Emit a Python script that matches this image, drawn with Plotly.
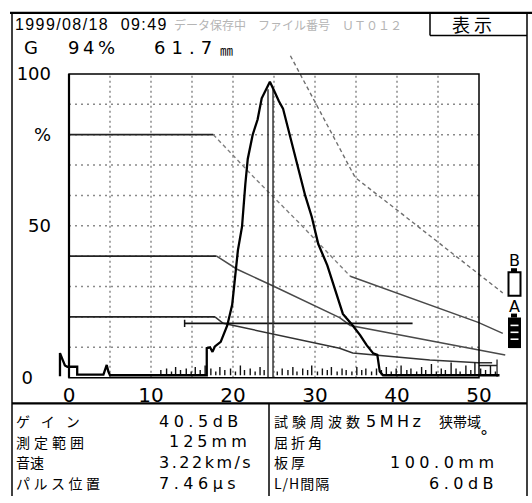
import plotly.graph_objects as go

W, H = 532, 503

# A-scan screen geometry (pixels per unit)
X0_PX, X_SCALE = 69.0, 8.2      # x = 0 at 69 px, 8.2 px per division unit
Y0_PX, Y_SCALE = 383.0, 3.08    # 0 % at 383 px, 3.08 px per %
PLOT_L, PLOT_R, PLOT_T, PLOT_B = 55, 510, 55, 386

# ---------------- data ----------------
x_ticks = [0, 10, 20, 30, 40, 50]
y_ticks = [0, 50, 80, 100]
y_ticktext = ["0\u2002\u2002", "50", "%", "100"]

# A-scan trace: initial pulse, baseline, main echo
echo_x = [-1.1, -1.1, -0.5, -0.2, 1.0, 1.0, 4.2, 4.4, 4.6, 4.8, 5.0,
          16.8, 16.8, 17.2, 17.5, 17.8, 18.5, 19.3, 19.9, 20.6, 21.1, 21.5,
          21.8, 22.4, 23.0, 23.5, 24.0, 24.5, 25.1, 25.6, 26.1, 27.0, 27.8,
          28.8, 29.6, 30.4, 31.5, 32.7, 33.4, 34.5, 35.5, 36.3, 37.1, 37.6,
          37.9, 38.3, 52.5]
echo_y = [0.5, 8.1, 4.0, 3.6, 3.6, 1.0, 1.0, 3.0, 4.2, 2.0, 0.8,
          0.8, 9.7, 10.0, 8.5, 10.3, 11.8, 17.2, 24.0, 42.0, 49.7, 63.6,
          72.0, 80.0, 85.0, 92.0, 95.0, 97.4, 94.0, 91.0, 88.6, 79.0, 71.0,
          60.0, 53.0, 44.0, 37.0, 27.0, 21.0, 17.5, 14.0, 10.7, 8.0, 7.5,
          2.0, 0.8, 0.8]

# baseline noise spikes
noise_x = [11.2, 11.9, 12.5, 13.0, 13.6, 14.3, 14.9, 15.4, 16.0, 16.6, 17.3,
           17.9, 18.4, 19.0, 19.7, 20.3, 20.9, 21.4, 22.1, 22.7, 23.3, 23.8,
           25.4, 26.0, 26.7, 27.3, 27.8, 28.5, 29.1, 29.6, 30.3, 30.9, 31.5,
           32.0, 32.7, 33.3, 33.8, 34.5, 35.1, 35.7, 36.2, 36.9, 37.5, 38.1,
           38.7, 39.3, 39.9, 40.5, 41.2, 41.7, 42.4, 43.0, 43.5, 44.2, 44.8,
           45.4, 45.9, 46.6, 47.2, 47.7, 48.4, 49.0, 49.5, 50.2, 50.8, 51.4,
           52.0]
noise_h = [2.5, 3.0, 2.0, 3.5, 2.5, 3.0, 2.0, 3.5, 2.5, 4.0, 3.0,
           2.0, 3.5, 2.5, 3.0, 2.0, 4.0, 2.5, 3.0, 2.0, 3.5, 2.5,
           2.0, 3.0, 2.5, 3.5, 2.0, 3.0, 2.5, 4.0, 2.0, 3.0, 2.5,
           3.5, 2.0, 3.0, 2.5, 2.0, 3.5, 2.5, 3.0, 2.0, 3.0, 2.5,
           3.5, 2.0, 3.0, 4.0, 2.5, 3.0, 2.0, 3.5, 2.5, 4.5, 2.0,
           3.0, 2.5, 5.0, 3.0, 2.0, 4.0, 2.5, 5.0, 3.0, 2.5, 4.0,
           2.0]
NOISE_BASE = 0.8

# DAC curves (echo height classification lines, 6 dB apart)
u_x = [27.0, 34.9, 40.0, 45.2, 52.9]
u_y = [106.0, 65.9, 55.2, 44.2, 27.9]

h_flat_x = [0.0, 17.6]
h_flat_y = [80.0, 80.0]
h_near_x = [17.6, 22.9, 28.2, 34.3]
h_near_y = [80.0, 65.0, 50.6, 33.4]
h_far_x = [34.3, 49.9, 52.9]
h_far_y = [33.4, 18.2, 14.6]

m_flat_x = [0.0, 18.0]
m_flat_y = [40.0, 40.0]
m_fall_x = [18.0, 20.5, 24.9, 33.0, 34.3, 53.2]
m_fall_y = [40.0, 35.7, 30.2, 19.8, 17.2, 7.5]

l_flat_x = [0.0, 17.8]
l_flat_y = [20.0, 20.0]
l_fall_x = [17.8, 18.8, 33.0, 34.6, 44.0, 49.9, 51.6]
l_fall_y = [20.0, 17.9, 9.7, 8.1, 5.8, 4.9, 4.9]

# gate and peak cursor
gate_x = [14.1, 41.9]
gate_level = 17.9
cursor_x = [24.27, 24.88]
cursor_top = 95.0
end_mark_x = 52.2

grid_x = [5, 10, 15, 20, 25, 30, 35, 40, 45]
grid_y = [10, 20, 30, 40, 50, 60, 70, 80, 90]

# ---------------- helpers ----------------
def px(x):
    return x / W


def py(y):
    return 1 - y / H


LATIN = "DejaVu Sans, Noto Sans CJK JP, sans-serif"
JP = "Noto Sans CJK JP, sans-serif"

fig = go.Figure()


def line(xs, ys, color="black", width=1.5, dash="solid"):
    fig.add_trace(go.Scatter(x=xs, y=ys, mode="lines", hoverinfo="skip",
                             line=dict(color=color, width=width, dash=dash),
                             showlegend=False))


# graticule
gx, gy = [], []
for v in grid_x:
    gx += [v, v, None]
    gy += [0, 100, None]
line(gx, gy, color="#8a8a8a", width=1.5, dash="2px,3px")
gx, gy = [], []
for v in grid_y:
    gx += [0, 50, None]
    gy += [v, v, None]
line(gx, gy, color="#8a8a8a", width=1.5, dash="2px,4px")

# DAC curves
line(u_x, u_y, color="#6f6f6f", width=1.4, dash="4px,3px")
line(h_flat_x, h_flat_y, color="#222", width=1.8)
line(h_near_x, h_near_y, color="#7f7f7f", width=1.4, dash="4px,3px")
line(h_far_x, h_far_y, color="#4a4a4a", width=1.5)
line(m_flat_x, m_flat_y, color="#222", width=1.8)
line(m_fall_x, m_fall_y, color="#4a4a4a", width=1.5)
line(l_flat_x, l_flat_y, color="#222", width=1.8)
line(l_fall_x, l_fall_y, color="#333", width=1.5)

# gate
line(gate_x, [gate_level, gate_level], color="#111", width=1.8)
line([gate_x[0], gate_x[0]], [gate_level - 1.2, gate_level + 1.2], color="#111", width=1.5)

# peak cursor (double vertical line)
cx, cy = [], []
for v in cursor_x:
    cx += [v, v, None]
    cy += [0, cursor_top, None]
line(cx, cy, color="#333", width=1.5)

# range end mark
line([50.0, end_mark_x, end_mark_x, end_mark_x], [4.0, 4.0, 0.3, 6.0], color="#222", width=1.3)

# baseline noise
nx, ny = [], []
for xv, hv in zip(noise_x, noise_h):
    nx += [xv, xv, None]
    ny += [NOISE_BASE, hv, None]
line(nx, ny, color="#111", width=1.4)

# A-scan echo
line(echo_x, echo_y, color="#000", width=2.3)

# ---------------- axes ----------------
x_rng = [(PLOT_L - X0_PX) / X_SCALE, (PLOT_R - X0_PX) / X_SCALE]
y_rng = [(Y0_PX - PLOT_B) / Y_SCALE, (Y0_PX - PLOT_T) / Y_SCALE]

fig.update_layout(
    width=W, height=H,
    margin=dict(l=0, r=0, t=0, b=0),
    paper_bgcolor="white", plot_bgcolor="white",
    xaxis=dict(domain=[px(PLOT_L), px(PLOT_R)], range=x_rng,
               tickvals=x_ticks, showgrid=False, zeroline=False, showline=False,
               ticks="", tickfont=dict(family=LATIN, size=20, color="black"),
               ticklabelstandoff=0, fixedrange=True),
    yaxis=dict(domain=[py(PLOT_B), py(PLOT_T)], range=y_rng,
               tickvals=y_ticks, ticktext=y_ticktext, showgrid=False,
               zeroline=False, showline=False, ticks="",
               tickfont=dict(family=LATIN, size=18, color="black"),
               ticklabelstandoff=3, fixedrange=True),
)

shapes = []


def pline(x0, y0, x1, y1, width=1.5, color="black"):
    shapes.append(dict(type="line", xref="paper", yref="paper",
                       x0=px(x0), y0=py(y0), x1=px(x1), y1=py(y1),
                       line=dict(color=color, width=width)))


def prect(x0, y0, x1, y1, fill=None, width=1.5, color="black"):
    shapes.append(dict(type="rect", xref="paper", yref="paper",
                       x0=px(x0), y0=py(y0), x1=px(x1), y1=py(y1),
                       fillcolor=fill if fill else "rgba(0,0,0,0)",
                       line=dict(color=color, width=width)))


# screen box
shapes.append(dict(type="rect", xref="x", yref="y", x0=0, y0=0, x1=50, y1=100,
                   line=dict(color="black", width=1.5)))
shapes.append(dict(type="line", xref="x", yref="y", x0=0, y0=0, x1=0, y1=100,
                   line=dict(color="black", width=2.2)))

# frame
pline(10, 13, 532, 13, width=2.2)
pline(12, 13, 12, 503, width=1.5)
pline(527, 13, 527, 503, width=1.5)
pline(430, 13, 430, 36, width=1.5)
pline(430, 36, 527, 36, width=1.5)
pline(12, 409, 527, 409, width=2.2)
pline(269, 409, 269, 503, width=1.5)

# B / A level indicator
prect(511, 272, 517, 276, fill="black", width=0)
prect(508.5, 276, 520.5, 300, width=2)
prect(511, 318, 517, 322, fill="black", width=0)
prect(508, 322, 521, 353, fill="black", width=0)
for yy in (330, 337, 344):
    pline(510.5, yy, 518.5, yy, width=1.6, color="white")

fig.update_layout(shapes=shapes)

annotations = []


def label(text, x, y, size, spacing=0.0, family=LATIN, color="black", anchor="left"):
    if spacing:
        text = f'<span style="letter-spacing:{spacing}px">{text}</span>'
    annotations.append(dict(text=text, xref="paper", yref="paper", x=px(x), y=py(y),
                            xanchor=anchor, yanchor="middle", showarrow=False,
                            font=dict(family=family, size=size, color=color)))


# header
label("1999/08/18  09:49", 13, 25, 16, spacing=1.4, family="Liberation Sans, DejaVu Sans")
label("データ保存中　ファイル番号　ＵＴ０１２", 172, 25, 12, family=JP, color="#b5b5b5")
label("表示", 450, 24, 18, spacing=4, family=JP)
label("G", 22, 48, 18)
label("94%", 66, 48, 18, spacing=3.5)
label("61.7", 152, 48, 18, spacing=6)
label("㎜", 218, 50, 13, family=JP)

# B / A labels
label("B", 514.5, 264, 16, anchor="center")
label("A", 514.5, 311, 16, anchor="center")

# parameter panel
rows = [427, 448, 469, 490]
label("ゲイン", 14, rows[0], 14, spacing=11, family=JP)
label("測定範囲", 14, rows[1], 14, spacing=4, family=JP)
label("音速", 14, rows[2], 14, family=JP)
label("パルス位置", 14, rows[3], 14, spacing=3.5, family=JP)
label("40.5dB", 157, rows[0], 16, spacing=4.5)
label("125mm", 167, rows[1], 16, spacing=4)
label("3.22km/s", 157, rows[2], 16, spacing=2.5)
label("7.46μs", 157, rows[3], 16, spacing=4.5)

label("試験周波数", 272, rows[0], 14, spacing=4, family=JP)
label("5MHz", 364, rows[0], 16, spacing=3.5)
label("狭帯域", 437, rows[0], 14, family=JP)
label("屈折角", 272, rows[1], 14, spacing=3, family=JP)
label("°", 478, rows[1] - 5, 16)
label("板厚", 272, rows[2], 14, spacing=3, family=JP)
label("100.0mm", 388, rows[2], 16, spacing=4.5)
label("L/H間隔", 272, rows[3], 14, spacing=1, family=JP)
label("6.0dB", 427, rows[3], 16, spacing=4.5)

fig.update_layout(annotations=annotations)

fig.write_html("out.html")
